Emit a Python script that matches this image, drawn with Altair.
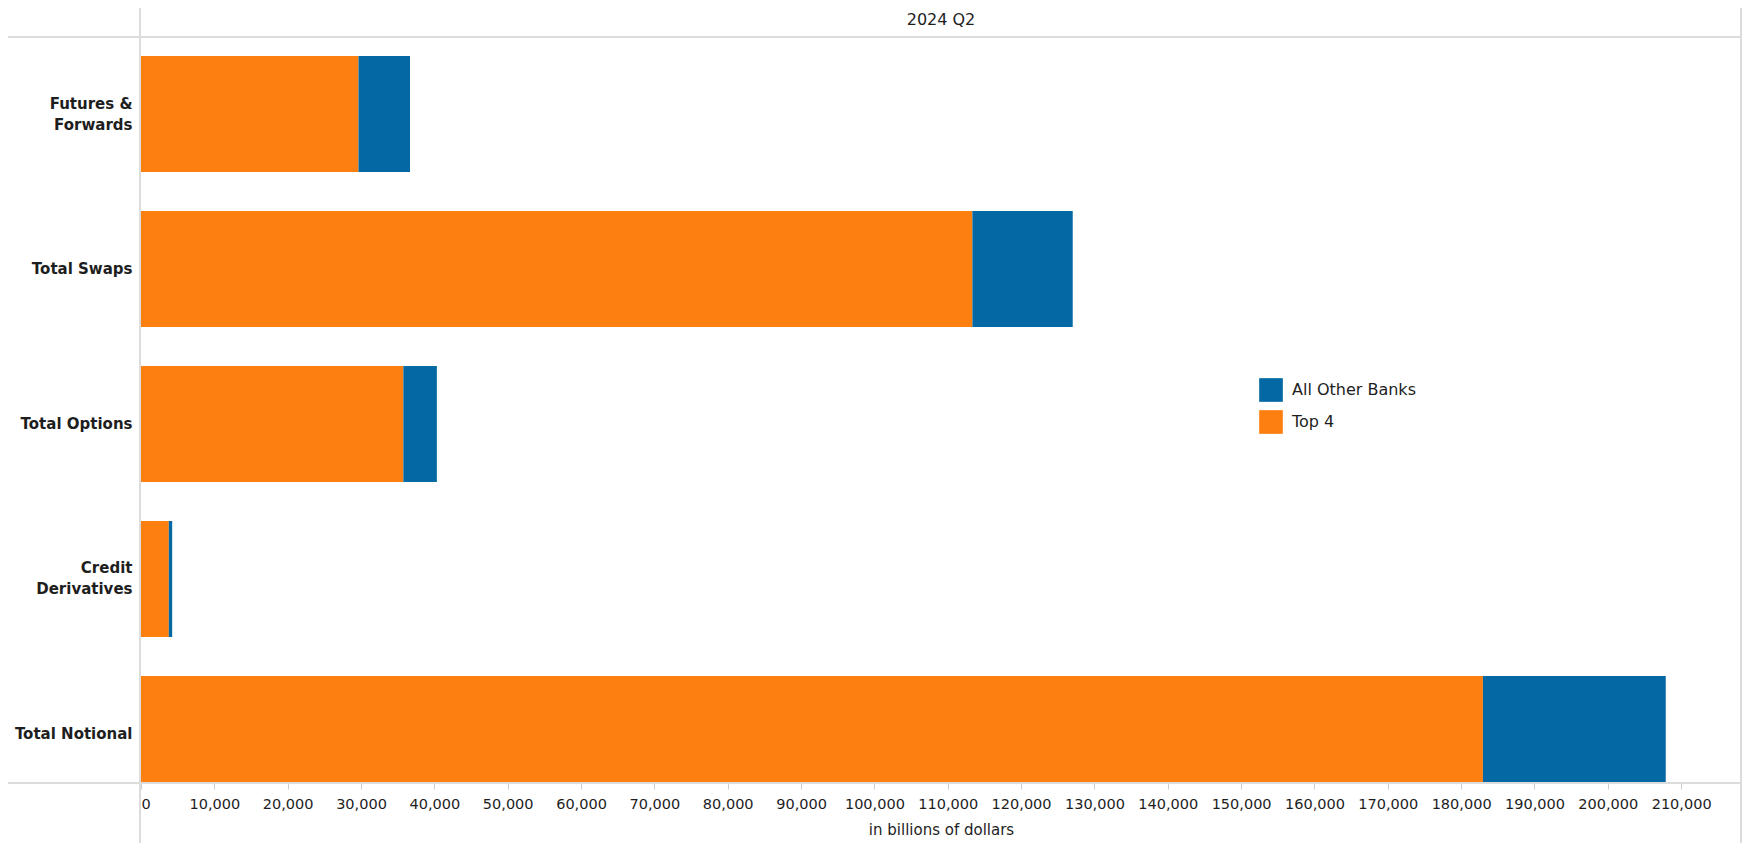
import altair as alt
import pandas as pd

# ---- data ----
categories = ["Futures & Forwards", "Total Swaps", "Total Options", "Credit Derivatives", "Total Notional"]
top4_values = [29650, 113360, 35770, 3790, 182970]
other_values = [7030, 13680, 4570, 460, 24930]
series_names = ["All Other Banks", "Top 4"]
series_colors = ["#0468a4", "#fd7f0f"]
x_tick_values = list(range(0, 210001, 10000))
header_text = "2024 Q2"
x_title = "in billions of dollars"
label_lines = {"Futures & Forwards": ["Futures &", "Forwards"],
               "Credit Derivatives": ["Credit", "Derivatives"]}

rows = []
for c, t, o in zip(categories, top4_values, other_values):
    rows.append({"category": c, "group": "Top 4", "value": t, "order": 0})
    rows.append({"category": c, "group": "All Other Banks", "value": o, "order": 1})
df = pd.DataFrame(rows)

W, H = 1600, 746
LINE = "#dcdcdc"
TXT = "#1e1e1e"
FONT = "DejaVu Sans"
LH = 21

expr = "datum.label"
for k, v in label_lines.items():
    arr = "[" + ", ".join("'" + s + "'" for s in v) + "]"
    expr = f"datum.label == '{k}' ? {arr} : ({expr})"
multi_test = " || ".join(f"datum.value == '{k}'" for k in label_lines)

bars = alt.Chart(df).mark_bar(clip=True).encode(
    x=alt.X("value:Q", stack="zero",
            scale=alt.Scale(domain=[0, 218160], nice=False, zero=True),
            axis=alt.Axis(values=x_tick_values, format=",d", title=x_title, grid=False,
                          domain=False, ticks=True, tickSize=6, tickColor="#cccccc",
                          labelFontSize=14.5, labelPadding=8, labelColor=TXT,
                          titleFontSize=15, titleFontWeight="normal", titlePadding=12,
                          titleColor=TXT)),
    y=alt.Y("category:N", sort=categories,
            scale=alt.Scale(range=[0, 774], paddingInner=0.2516, paddingOuter=0.1226),
            axis=alt.Axis(title=None, domain=False, ticks=False, tickSize=0, grid=False,
                          labelFontWeight="bold", labelFontSize=15, labelPadding=9,
                          labelLineHeight=LH, labelExpr=expr, labelLimit=200,
                          labelOffset={"condition": {"test": multi_test, "value": -LH / 2},
                                       "value": 0},
                          labelColor=TXT)),
    color=alt.Color("group:N",
                    scale=alt.Scale(domain=series_names, range=series_colors),
                    legend=alt.Legend(title=None, orient="none", legendX=1118, legendY=341,
                                      symbolType="square", symbolSize=560,
                                      symbolStrokeWidth=0, labelFontSize=16,
                                      labelOffset=9, rowPadding=8, labelColor=TXT)),
    order=alt.Order("order:Q"),
)

one = pd.DataFrame({"k": [0]})


def rule(x1, x2, y1, y2, color=LINE, width=2):
    return alt.Chart(one).mark_rule(color=color, strokeWidth=width).encode(
        x=alt.value(x1), x2=alt.value(x2), y=alt.value(y1), y2=alt.value(y2))


header = alt.Chart(pd.DataFrame({"label": [header_text]})).mark_text(
    fontSize=16, color=TXT, align="center", baseline="middle"
).encode(x=alt.value(W / 2), y=alt.value(-17), text="label:N")

chart = alt.layer(
    bars,
    rule(-133, W, 0, 0),
    rule(-133, W, H, H),
    rule(-1, -1, -29, 815),
    rule(W, W, -29, 815),
    header,
).properties(
    width=W, height=H,
    padding={"left": 133, "top": 29, "right": 1, "bottom": 60},
    autosize=alt.AutoSizeParams(type="none"),
).configure(font=FONT).configure_view(stroke=None)

chart.save("out.html", embed_options={"renderer": "svg", "actions": False})
